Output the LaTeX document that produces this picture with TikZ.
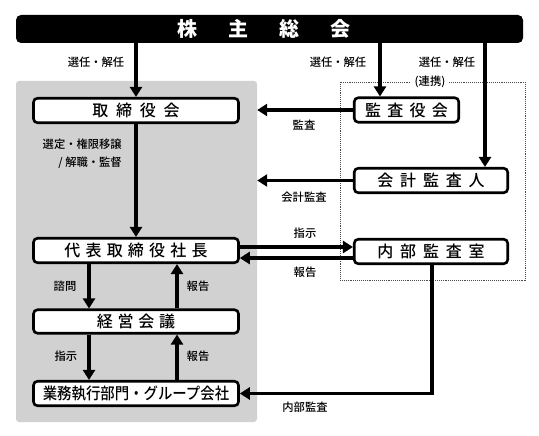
\documentclass[tikz,border=0pt]{standalone}
\usepackage{fontspec}
\setmainfont{Noto Sans CJK JP}
\newfontfamily\jpm{Noto Sans CJK JP Medium}
\usetikzlibrary{arrows.meta,calc}
\begin{document}
\begin{tikzpicture}[x=1pt,y=-1pt,
  box/.style={draw, line width=2.6pt, rounded corners=4pt, fill=white, minimum height=24.5pt, inner sep=0pt, font=\jpm\fontsize{16}{18}\selectfont},
  lbl/.style={font=\jpm\fontsize{11.3}{18}\selectfont, inner sep=0pt},
  arr/.style={line width=3.8pt, -{Triangle[length=10pt,width=12pt]}},
]
\useasboundingbox (0,0) rectangle (539,436);
% background regions
\node[fill=black!18, rounded corners=3pt, minimum width=241pt, minimum height=341pt, inner sep=0pt] (exec) at (136.5,251.5) {};
\node[draw=black!70, densely dotted, line width=0.9pt, minimum width=185pt, minimum height=198pt, inner sep=0pt] (audit) at (432.5,181) {};
% top bar
\node[fill=black, rounded corners=5pt, minimum width=507pt, minimum height=28pt, inner sep=0pt] (gm) at (269.5,29) {};
\node[text=white, font=\bfseries\fontsize{20}{22}\selectfont, inner sep=0pt] (gmtext) at (264,29) {株\hspace{31pt}主\hspace{31pt}総\hspace{31pt}会};
% boxes
\node[box, minimum width=205pt] (bod) at (136,110.5) {取\hspace{7.7pt}締\hspace{7.7pt}役\hspace{7.7pt}会};
\node[box, minimum width=104.5pt] (kab) at (406.5,110) {監\hspace{6.3pt}査\hspace{6.3pt}役\hspace{6.3pt}会};
\node[box, minimum width=153.5pt] (acc) at (431,180.5) {会\hspace{6.8pt}計\hspace{6.8pt}監\hspace{6.8pt}査\hspace{6.8pt}人};
\node[box, minimum width=205pt] (ceo) at (136,250.5) {代\hspace{5.2pt}表\hspace{5.2pt}取\hspace{5.2pt}締\hspace{5.2pt}役\hspace{5.2pt}社\hspace{5.2pt}長};
\node[box, minimum width=153.5pt] (ia) at (431,251.5) {内\hspace{6.8pt}部\hspace{6.8pt}監\hspace{6.8pt}査\hspace{6.8pt}室};
\node[box, minimum width=205pt, minimum height=23.5pt] (mgmt) at (136,321.5) {経\hspace{4.7pt}営\hspace{4.7pt}会\hspace{4.7pt}議};
\node[box, minimum width=205pt] (ops) at (136,393.5) {\scalebox{0.9}[1]{業務執行部門・グループ会社}};
% helper coordinates
\coordinate (xa) at (380,0);
\coordinate (xb) at (485,0);
\coordinate (ya) at (0,247);
\coordinate (yb) at (0,258);
\coordinate (xl) at (89,0);
\coordinate (xr) at (177,0);
\coordinate (xi) at (432,0);
% connectors
\draw[arr] (gm.south -| bod) -- (bod.north);
\draw[arr] (gm.south -| xa) -- (kab.north -| xa);
\draw[arr] (gm.south -| xb) -- (acc.north -| xb);
\draw[arr] (kab.west) -- (kab.west -| exec.east);
\draw[arr] (acc.west) -- (acc.west -| exec.east);
\draw[arr] (bod.south) -- (ceo.north);
\draw[arr] (ceo.east |- ya) -- (ia.west |- ya);
\draw[arr] (ia.west |- yb) -- (ceo.east |- yb);
\draw[arr] (ceo.south -| xl) -- (mgmt.north -| xl);
\draw[arr] (mgmt.north -| xr) -- (ceo.south -| xr);
\draw[arr] (mgmt.south -| xl) -- (ops.north -| xl);
\draw[arr] (ops.north -| xr) -- (mgmt.south -| xr);
\draw[arr] (ia.south -| xi) |- (ops.east);
% labels
\node[lbl] (l1) at (96,62) {選任・解任};
\node[lbl] (l2) at (338,62) {選任・解任};
\node[lbl] (l3) at (447,62) {選任・解任};
\node[lbl, fill=white, inner xsep=4pt, inner ysep=1pt] (l4) at (430,82) {(連携)};
\node[lbl] (l5) at (304,125) {監査};
\node[lbl] (l6) at (304,197) {会計監査};
\node[lbl] (l7) at (305,233) {指示};
\node[lbl] (l8) at (305,272) {報告};
\node[lbl, align=right, anchor=east] (l9) at (122,154) {選定・権限移譲\\/ 解職・監督};
\node[lbl] (l10) at (65,286) {諮問};
\node[lbl] (l11) at (198,286) {報告};
\node[lbl] (l12) at (66,356) {指示};
\node[lbl] (l13) at (198,356) {報告};
\node[lbl] (l14) at (305,407) {内部監査};
\end{tikzpicture}
\end{document}
